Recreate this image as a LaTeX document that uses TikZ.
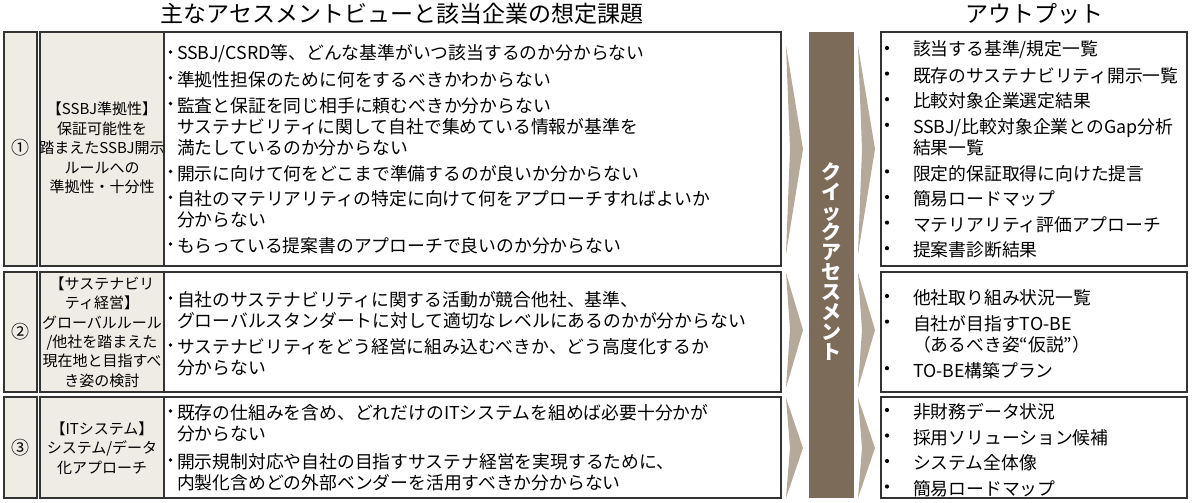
\documentclass[tikz,border=0pt]{standalone}
\usepackage{fontspec}
\setmainfont{Noto Sans CJK JP}
\definecolor{cellbg}{HTML}{EFEBE5}
\definecolor{chevbg}{HTML}{B5AA9A}
\definecolor{barbg}{HTML}{7B6B58}
\newcommand{\unitsize}{1pt}

\begin{document}
\begin{tikzpicture}[x=\unitsize,y=-\unitsize]
\useasboundingbox (0,0) rectangle (1192,503);
\tikzstyle{every node}=[inner sep=0pt,
			outer sep=0pt
			]
\tikzstyle{cellbox}=[draw=black!80, line width=1.1pt]
\tikzstyle{chevron}=[fill=chevbg]
\tikzstyle{header}=[font=\fontsize{23}{23}\selectfont]
\tikzstyle{numlabel}=[font=\fontsize{18}{18}\selectfont]
\tikzstyle{title}=[align=center, font=\fontsize{15}{19.4}\selectfont]
\tikzstyle{issue}=[anchor=west, align=left, yshift=-2pt, font=\fontsize{17.8}{21}\selectfont]
\tikzstyle{output}=[anchor=west, align=left, yshift=-2pt, font=\fontsize{17.8}{21}\selectfont]

% headers
\node[header] (hissue) at (402,14) {主なアセスメントビューと該当企業の想定課題};
\node[header] (hout) at (1034,14) {アウトプット};

% row boxes
\filldraw[cellbox, fill=cellbg] (4,32) rectangle (37,266);
\filldraw[cellbox, fill=cellbg] (40,32) rectangle (164,266);
\draw[cellbox] (164,32) rectangle (781,266);

\filldraw[cellbox, fill=cellbg] (4,272) rectangle (37,392);
\filldraw[cellbox, fill=cellbg] (40,272) rectangle (164,392);
\draw[cellbox] (164,272) rectangle (781,392);

\filldraw[cellbox, fill=cellbg] (4,397) rectangle (37,498);
\filldraw[cellbox, fill=cellbg] (40,397) rectangle (164,498);
\draw[cellbox] (164,397) rectangle (781,498);

\draw[cellbox] (881,32) rectangle (1187,266);
\draw[cellbox] (881,272) rectangle (1187,392);
\draw[cellbox] (881,397) rectangle (1187,498);

% chevrons
\fill[chevron] (786,46) -- (803,149) -- (786,254) -- (790,149) -- cycle;
\fill[chevron] (786,273) -- (803,330) -- (786,388) -- (790,330) -- cycle;
\fill[chevron] (786,398) -- (803,448) -- (786,498) -- (790,448) -- cycle;

\fill[chevron] (858,46) -- (875,149) -- (858,254) -- (862,149) -- cycle;
\fill[chevron] (858,273) -- (875,330) -- (858,388) -- (862,330) -- cycle;
\fill[chevron] (858,398) -- (875,448) -- (858,498) -- (862,448) -- cycle;

% quick assessment bar
\fill[barbg] (809,32) rectangle (854,498);
\node[align=center, text=white, font=\fontsize{20}{20}\selectfont\bfseries] (qa) at (831.5,262)
    {ク\\イ\\ッ\\ク\\ア\\セ\\ス\\メ\\ン\\ト};

% numbers
\node[numlabel] (n1) at (20.5,148) {①};
\node[numlabel] (n2) at (20.5,332) {②};
\node[numlabel] (n3) at (20.5,448) {③};

% titles
\node[title] (t1) at (102,148) {【SSBJ準拠性】\\保証可能性を\\踏まえたSSBJ開示\\ルールへの\\準拠性・十分性};
\node[title] (t2) at (102,332) {【サステナビリ\\ティ経営】\\グローバルルール\\/他社を踏まえた\\現在地と目指すべ\\き姿の検討};
\node[title] (t3) at (102,448) {【ITシステム】\\システム/データ\\化アプローチ};

% issues, row 1
\fill (170.5,52) circle (1.9);
\fill (170.5,77.8) circle (1.9);
\fill (170.5,103.6) circle (1.9);
\fill (170.5,171.4) circle (1.9);
\fill (170.5,197.2) circle (1.9);
\fill (170.5,244) circle (1.9);
\node[issue] (i11) at (177,52) {SSBJ/CSRD等、どんな基準がいつ該当するのか分からない};
\node[issue] (i12) at (177,77.8) {準拠性担保のために何をするべきかわからない};
\node[issue] (i13) at (177,124.6) {監査と保証を同じ相手に頼むべきか分からない\\サステナビリティに関して自社で集めている情報が基準を\\満たしているのか分からない};
\node[issue] (i14) at (177,171.4) {開示に向けて何をどこまで準備するのが良いか分からない};
\node[issue] (i15) at (177,207.7) {自社のマテリアリティの特定に向けて何をアプローチすればよいか\\分からない};
\node[issue] (i16) at (177,244) {もらっている提案書のアプローチで良いのか分からない};

% issues, row 2
\fill (170.5,298) circle (1.9);
\fill (170.5,345) circle (1.9);
\node[issue] (i21) at (177,308.5) {自社のサステナビリティに関する活動が競合他社、基準、\\グローバルスタンダートに対して適切なレベルにあるのかが分からない};
\node[issue] (i22) at (177,355.5) {サステナビリティをどう経営に組み込むべきか、どう高度化するか\\分からない};

% issues, row 3
\fill (170.5,411) circle (1.9);
\fill (170.5,460) circle (1.9);
\node[issue] (i31) at (177,421.5) {既存の仕組みを含め、どれだけのITシステムを組めば必要十分かが\\分からない};
\node[issue] (i32) at (177,470.5) {開示規制対応や自社の目指すサステナ経営を実現するために、\\内製化含めどの外部ベンダーを活用すべきか分からない};

% outputs, row 1
\fill (887,48) circle (2.1);
\fill (887,73.6) circle (2.1);
\fill (887,99.2) circle (2.1);
\fill (887,124.8) circle (2.1);
\fill (887,171.4) circle (2.1);
\fill (887,197) circle (2.1);
\fill (887,222.6) circle (2.1);
\fill (887,248.2) circle (2.1);
\node[output] (o11) at (913,48) {該当する基準/規定一覧};
\node[output] (o12) at (913,73.6) {既存のサステナビリティ開示一覧};
\node[output] (o13) at (913,99.2) {比較対象企業選定結果};
\node[output] (o14) at (913,135.3) {SSBJ/比較対象企業とのGap分析\\結果一覧};
\node[output] (o15) at (913,171.4) {限定的保証取得に向けた提言};
\node[output] (o16) at (913,197) {簡易ロードマップ};
\node[output] (o17) at (913,222.6) {マテリアリティ評価アプローチ};
\node[output] (o18) at (913,248.2) {提案書診断結果};

% outputs, row 2
\fill (887,296) circle (2.1);
\fill (887,321.6) circle (2.1);
\fill (887,368.2) circle (2.1);
\node[output] (o21) at (913,296) {他社取り組み状況一覧};
\node[output] (o22) at (913,332.1) {自社が目指すTO-BE\\（あるべき姿“仮説”）};
\node[output] (o23) at (913,368.2) {TO-BE構築プラン};

% outputs, row 3
\fill (887,410) circle (2.1);
\fill (887,435.5) circle (2.1);
\fill (887,461) circle (2.1);
\fill (887,486.5) circle (2.1);
\node[output] (o31) at (913,410) {非財務データ状況};
\node[output] (o32) at (913,435.5) {採用ソリューション候補};
\node[output] (o33) at (913,461) {システム全体像};
\node[output] (o34) at (913,486.5) {簡易ロードマップ};

\end{tikzpicture}
\end{document}
